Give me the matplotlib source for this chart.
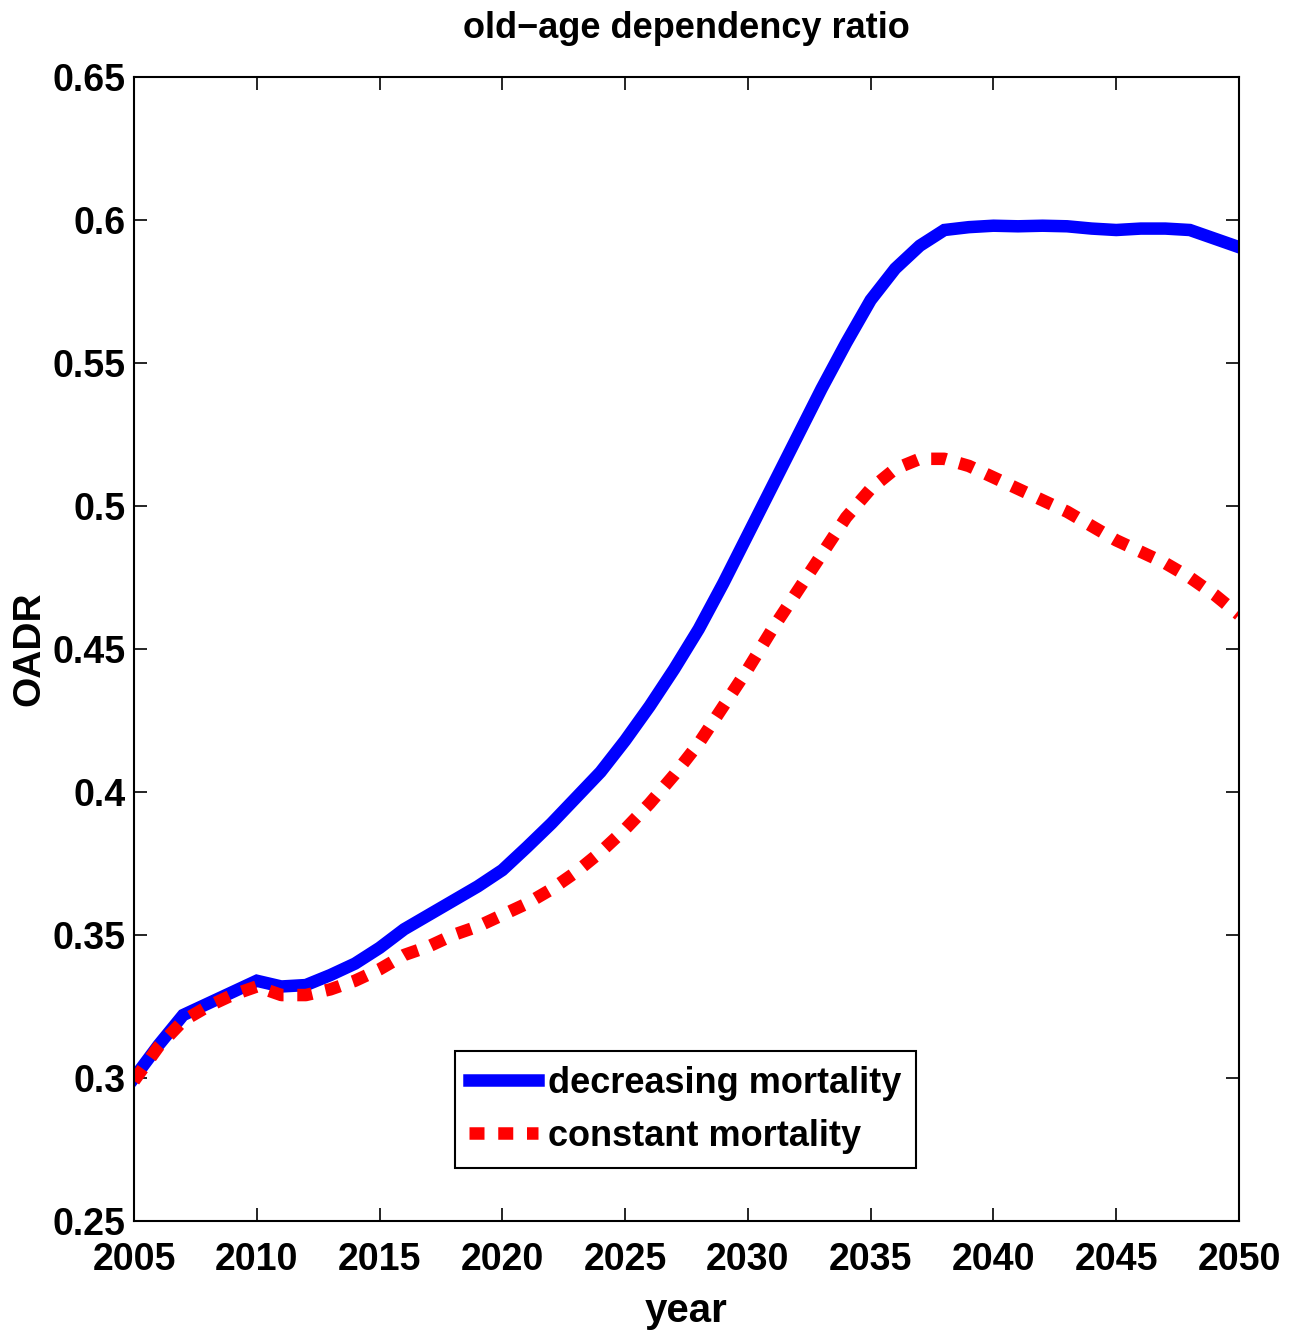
import matplotlib
matplotlib.use('Agg')
import matplotlib.pyplot as plt
import numpy as np

years = np.arange(2005, 2051)

# decreasing mortality (blue solid)
oadr_decreasing = [0.300, 0.3115, 0.322, 0.326, 0.330, 0.334, 0.332, 0.3325, 0.336, 0.340,
                   0.3455, 0.352, 0.357, 0.362, 0.367, 0.3727, 0.3807, 0.389, 0.398, 0.407,
                   0.418, 0.430, 0.443, 0.457, 0.473, 0.490, 0.507, 0.524, 0.541, 0.557,
                   0.572, 0.583, 0.591, 0.5965, 0.5975, 0.598, 0.5978, 0.598, 0.5978, 0.597,
                   0.5965, 0.597, 0.597, 0.5965, 0.5935, 0.5905]

# constant mortality (red dashed)
oadr_constant = [0.299, 0.311, 0.320, 0.325, 0.329, 0.332, 0.329, 0.329, 0.331, 0.334,
                 0.338, 0.343, 0.346, 0.350, 0.353, 0.357, 0.361, 0.366, 0.372, 0.379,
                 0.387, 0.396, 0.406, 0.417, 0.430, 0.443, 0.457, 0.470, 0.483, 0.496,
                 0.506, 0.513, 0.5165, 0.5165, 0.514, 0.510, 0.506, 0.502, 0.498, 0.493,
                 0.488, 0.484, 0.480, 0.475, 0.469, 0.462]

yticks = [0.25, 0.3, 0.35, 0.4, 0.45, 0.5, 0.55, 0.6, 0.65]
ytick_labels = ['0.25', '0.3', '0.35', '0.4', '0.45', '0.5', '0.55', '0.6', '0.65']
xticks = np.arange(2005, 2051, 5)

plt.rcParams['font.family'] = ['Liberation Sans', 'DejaVu Sans']

fig = plt.figure(figsize=(12.97, 13.32), dpi=100)
ax = fig.add_axes([134/1297, 1 - 1221/1332, (1239-134)/1297, (1221-77)/1332])

ax.plot(years, oadr_decreasing, color='blue', lw=9, solid_joinstyle='miter',
        label='decreasing mortality')
ax.plot(years, oadr_constant, color='red', lw=9, linestyle=(0, (1.2, 1.1)),
        dash_capstyle='butt', label='constant mortality')

ax.set_xlim(2005, 2050)
ax.set_ylim(0.25, 0.65)
ax.set_xticks(xticks)
ax.set_yticks(yticks)
ax.set_yticklabels(ytick_labels)
ax.tick_params(direction='in', length=9.5, width=1.2, top=True, right=True,
               labelsize=27)
ax.tick_params(axis='x', pad=15)
ax.tick_params(axis='y', pad=6)
for lab in ax.get_xticklabels() + ax.get_yticklabels():
    lab.set_fontweight('bold')
for s in ax.spines.values():
    s.set_linewidth(1.5)

ax.set_title('old\u2212age dependency ratio', fontsize=26, fontweight='bold', pad=28)
ax.set_xlabel('year', fontsize=29, fontweight='bold', labelpad=10)
ax.set_ylabel('OADR', fontsize=28, fontweight='bold')
ax.yaxis.set_label_coords(-0.078, 0.5)

leg = ax.legend(loc='lower center', bbox_to_anchor=(0.499, 0.046),
                prop={'weight': 'bold', 'size': 26}, fancybox=False, framealpha=1,
                edgecolor='black', handlelength=1.9, handletextpad=0.3,
                borderpad=0.4, labelspacing=0.5, borderaxespad=0)
leg.get_frame().set_linewidth(1.5)

fig.savefig('out.png', dpi=100)
